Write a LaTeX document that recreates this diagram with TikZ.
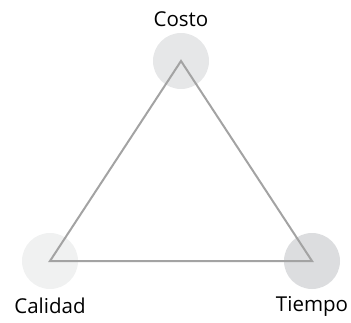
\documentclass[tikz,border=0pt]{standalone}
\usepackage{fontspec}
\setmainfont{Open Sans}
\usetikzlibrary{positioning}
\definecolor{edgegray}{HTML}{A3A3A3}
\definecolor{costofill}{HTML}{E6E7E8}
\definecolor{calidadfill}{HTML}{F0F1F1}
\definecolor{tiempofill}{HTML}{DCDDDF}
\begin{document}
\begin{tikzpicture}[
            x = 1pt, y = -1pt, % pixel grid of the reference
            corner/.style = {circle, draw = none, minimum size = 56pt, inner sep = 0pt},
            caption/.style = {font = \fontsize{20.5}{24}\selectfont, inner sep = 0pt},
            side/.style = {draw = edgegray, line width = 2pt, line join = miter}
        ]
        \useasboundingbox (0,0) rectangle (351,322);

        % CORNERS OF THE TRIANGLE
        \node[corner, fill = costofill] (C) at (181,61) {};
        \node[corner, fill = calidadfill] (Q) at (50,261) {};
        \node[corner, fill = tiempofill] (T) at (312,261) {};

        % LABELS
        \node[caption] (CL) at (181,19) {Costo};
        \node[caption] (QL) at (50,306) {Calidad};
        \node[caption] (TL) at (312,306) {Tiempo};

        % TRIANGLE
        \draw[side] (C.center) -- (T.center) -- (Q.center) -- cycle;

\end{tikzpicture}
\end{document}
